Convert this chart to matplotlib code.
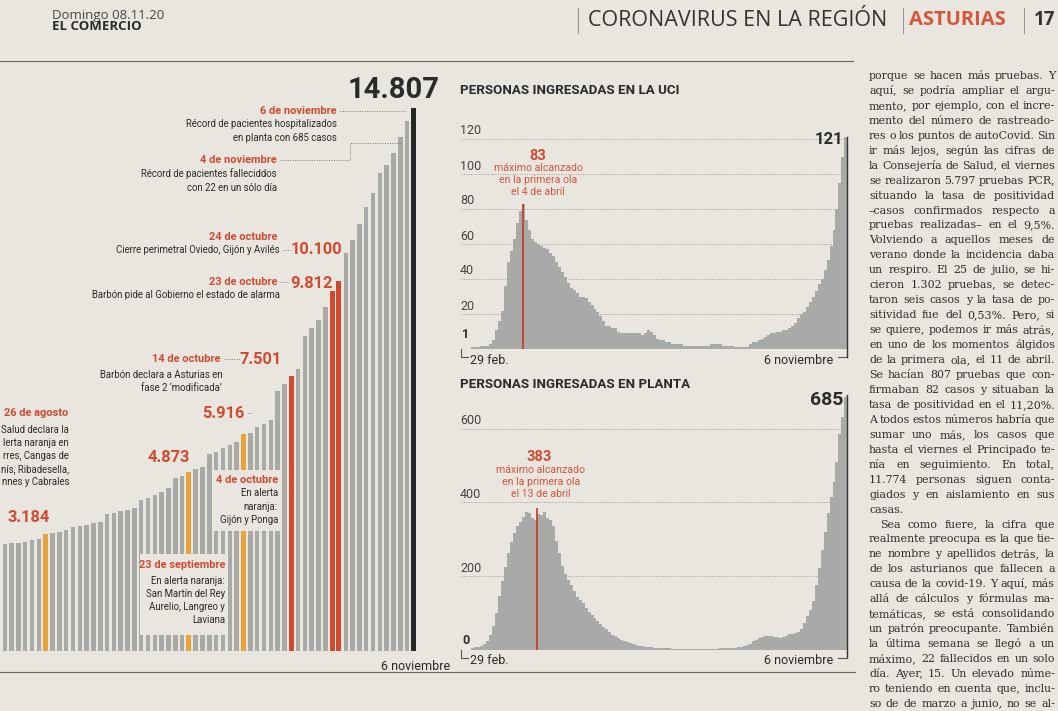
import matplotlib
matplotlib.use('Agg')
import matplotlib.pyplot as plt
from matplotlib.patches import Rectangle
import pandas as pd

W, H = 1058, 711
PAPER = '#e9e6df'
INK = '#2b2b2b'
RED = '#cf4a31'
ORANGE = '#e8a23a'
GREY = '#a9a9a7'
NARROW = ['Liberation Sans Narrow', 'Roboto', 'DejaVu Sans']
HEAD = ['Open Sans', 'DejaVu Sans']
SERIF = ['DejaVu Serif']

# casos acumulados, una barra por dia con dato
casos = [2919, 2938, 2956, 2983, 3029, 3047, 3184, 3211, 3256, 3301,
         3374, 3411, 3447, 3484, 3529, 3738, 3757, 3820, 3847, 3893,
         4120, 4166, 4256, 4347, 4438, 4712, 4775, 4873, 4957, 5020,
         5375, 5438, 5531, 5621, 5711, 5916, 5961, 6103, 6194, 6300,
         7082, 7277, 7501, 7700, 8600, 8820, 9040, 9380, 9812, 10100,
         10868, 11214, 11651, 12106, 12505, 13034, 13261, 13597, 14033, 14450,
         14807]
naranja = [6, 27, 35]
rojo = [42, 48, 49]
negro = [60]

# ingresados cada dos dias (29 feb - 6 nov)
fechas = pd.date_range('2020-03-01', '2020-11-06', freq='2D')
uci = [1, 1, 1, 2, 2, 2, 3, 5, 11, 16,
       22, 36, 50, 56, 63, 72, 79, 83, 74, 68,
       63, 61, 60, 59, 58, 57, 55, 53, 50, 47,
       44, 41, 38, 35, 34, 32, 30, 30, 29, 27,
       25, 23, 21, 19, 16, 13, 13, 12, 12, 10,
       9, 9, 9, 9, 9, 9, 9, 8, 9, 11,
       10, 8, 6, 5, 5, 4, 4, 3, 3, 3,
       3, 2, 2, 2, 2, 2, 2, 2, 2, 2,
       3, 3, 3, 3, 2, 2, 2, 2, 1, 1,
       1, 1, 1, 3, 4, 4, 5, 6, 7, 8,
       9, 9, 10, 10, 11, 11, 12, 13, 15, 18,
       20, 21, 24, 27, 30, 33, 37, 40, 45, 51,
       59, 68, 80, 95, 110, 121]
planta = [5, 6, 7, 9, 14, 24, 40, 65, 100, 145,
          185, 225, 263, 292, 316, 335, 347, 360, 372, 370,
          357, 352, 368, 365, 372, 358, 352, 335, 295, 262,
          228, 205, 190, 174, 158, 142, 134, 126, 114, 103,
          93, 86, 77, 68, 62, 55, 47, 40, 36, 32,
          27, 24, 21, 18, 15, 12, 10, 9, 8, 7,
          6, 5, 4, 4, 3, 3, 3, 2, 2, 2,
          2, 2, 2, 2, 2, 2, 2, 2, 2, 2,
          2, 2, 2, 3, 3, 3, 3, 3, 4, 6,
          8, 9, 11, 14, 22, 26, 31, 35, 36, 37,
          37, 35, 33, 30, 34, 38, 41, 43, 44, 47,
          55, 73, 90, 107, 132, 175, 220, 270, 320, 370,
          415, 455, 510, 585, 630, 685]
inicio = pd.Timestamp('2020-02-29')
pico_uci = (pd.Timestamp('2020-04-04'), 83)
pico_planta = (pd.Timestamp('2020-04-13'), 383)

columna = [
    "porque se hacen más pruebas. Y",
    "aquí, se podría ampliar el argu-",
    "mento, por ejemplo, con el incre-",
    "mento del número de rastreado-",
    "res o los puntos de autoCovid. Sin",
    "ir más lejos, según las cifras de",
    "la Consejería de Salud, el viernes",
    "se realizaron 5.797 pruebas PCR,",
    "situando la tasa de positividad",
    "–casos confirmados respecto a",
    "pruebas realizadas– en el 9,5%.",
    "Volviendo a aquellos meses de",
    "verano donde la incidencia daba",
    "un respiro. El 25 de julio, se hi-",
    "cieron 1.302 pruebas, se detec-",
    "taron seis casos y la tasa de po-",
    "sitividad fue del 0,53%. Pero, si",
    "se quiere, podemos ir más atrás,",
    "en uno de los momentos álgidos",
    "de la primera ola, el 11 de abril.",
    "Se hacían 807 pruebas que con-",
    "firmaban 82 casos y situaban la",
    "tasa de positividad en el 11,20%.",
    "A todos estos números habría que",
    "sumar uno más, los casos que",
    "hasta el viernes el Principado te-",
    "nía en seguimiento. En total,",
    "11.774 personas siguen conta-",
    "giados y en aislamiento en sus",
    "casas.",
    "Sea como fuere, la cifra que",
    "realmente preocupa es la que tie-",
    "ne nombre y apellidos detrás, la",
    "de los asturianos que fallecen a",
    "causa de la covid-19. Y aquí, más",
    "allá de cálculos y fórmulas ma-",
    "temáticas, se está consolidando",
    "un patrón preocupante. También",
    "la última semana se llegó a un",
    "máximo, 22 fallecidos en un solo",
    "día. Ayer, 15. Un elevado núme-",
    "ro teniendo en cuenta que, inclu-",
    "so de de marzo a junio, no se al-",
]


def px_axes(x0, y0, x1, y1):
    ax = fig.add_axes([x0 / W, 1 - y1 / H, (x1 - x0) / W, (y1 - y0) / H])
    ax.set_facecolor('none')
    for s in ax.spines.values():
        s.set_visible(False)
    ax.set_xticks([])
    ax.set_yticks([])
    return ax


def txt(x, y, s, size, color=INK, weight='normal', ha='left', family=NARROW, va='center'):
    return ov.text(x, y, s, fontsize=size, color=color, fontweight=weight, ha=ha,
                   va=va, family=family)


fig = plt.figure(figsize=(W / 100, H / 100), dpi=100)
fig.patch.set_facecolor(PAPER)

# --- barras de casos acumulados ---
axb = px_axes(0, 100, 420, 651)
colores = [GREY] * len(casos)
for i in naranja:
    colores[i] = ORANGE
for i in rojo:
    colores[i] = RED
for i in negro:
    colores[i] = '#262626'
anchos = [0.66 if c == GREY else 0.74 for c in colores]
axb.bar(range(len(casos)), casos, width=anchos, color=colores, linewidth=0)
axb.set_xlim(-0.7, -0.7 + 420 / 6.82)
axb.set_ylim(0, 551 / 0.03665)

# --- UCI y planta ---
dias = (fechas - inicio).days
for (y0, y1, serie, tope, ticks, pico) in [
        (130, 349, uci, 219 / 1.75, [20, 40, 60, 80, 100, 120], pico_uci),
        (390, 649.5, planta, 259.5 / 0.3683, [200, 400, 600], pico_planta)]:
    ax = px_axes(461, y0, 847, y1)
    ax.set_xlim(-6.7, 251.7)
    ax.set_ylim(0, tope)
    for t in ticks:
        ax.axhline(t, color='#9a9a96', lw=0.7, ls=(0, (1, 1.5)), zorder=0)
    ax.bar(dias, serie, width=2.0, color=GREY, linewidth=0, zorder=2)
    ax.vlines((pico[0] - inicio).days, 0, pico[1], color='#c8402d', lw=1.3, zorder=3)

# --- capa de textos ---
ov = fig.add_axes([0, 0, 1, 1], zorder=10)
ov.set_xlim(0, W)
ov.set_ylim(H, 0)
ov.axis('off')
ov.patch.set_alpha(0)

# cabecera
txt(52, 16, "Domingo 08.11.20", 9.5, color='#444', family=HEAD)
txt(52, 27, "EL COMERCIO", 9.5, weight='bold', family=HEAD)
txt(588, 20, "CORONAVIRUS EN LA REGIÓN", 15.5, color='#333', family=HEAD)
txt(909, 20, "ASTURIAS", 14.5, color='#d4573b', weight='bold', family=HEAD)
txt(1034, 20, "17", 13.5, color='#333', weight='bold', family=HEAD)
for xs in [578, 903, 1024]:
    ov.plot([xs, xs], [8, 33], color='#999', lw=0.8)
ov.plot([0, 853], [61, 61], color='#666', lw=0.8)
ov.plot([0, 855], [672, 672], color='#666', lw=0.8)

# cajas que tapan las barras
ov.add_patch(Rectangle((140, 554), 88, 81, facecolor=PAPER, edgecolor='none'))
ov.add_patch(Rectangle((212, 470), 70, 61, facecolor=PAPER, edgecolor='none'))

# anotaciones grafico de barras
dot = dict(color='#777', lw=0.7, ls=(0, (1, 1.5)))
NOTA = 6.9
FECHA = 7.9
CIFRA = 11.8
txt(394, 90, "14.807", 21, weight='bold', ha='center')
txt(337, 111, "6 de noviembre", FECHA, color=RED, weight='bold', ha='right')
ov.plot([340, 406], [111, 111], **dot)
txt(337, 124, "Récord de pacientes hospitalizados", NOTA, ha='right')
txt(337, 138, "en planta con 685 casos", NOTA, ha='right')
txt(277, 160, "4 de noviembre", FECHA, color=RED, weight='bold', ha='right')
ov.plot([280, 350, 350, 400], [160, 160, 143, 143], **dot)
txt(277, 174, "Récord de pacientes falleciddos", NOTA, ha='right')
txt(277, 188, "con 22 en un sólo día", NOTA, ha='right')
txt(277, 237, "24 de octubre", FECHA, color=RED, weight='bold', ha='right')
txt(280, 250, "Cierre perimetral Oviedo, Gijón y Avilés", NOTA, ha='right')
ov.plot([283, 291], [250, 250], **dot)
txt(342, 250, "10.100", CIFRA, color=RED, weight='bold', ha='right')
txt(277, 282, "23 de octubre", FECHA, color=RED, weight='bold', ha='right')
ov.plot([280, 288], [282, 282], **dot)
txt(333, 283, "9.812", CIFRA, color=RED, weight='bold', ha='right')
txt(280, 295, "Barbón pide al Gobierno el estado de alarma", NOTA, ha='right')
txt(220, 359, "14 de octubre", FECHA, color=RED, weight='bold', ha='right')
ov.plot([224, 241], [359, 359], **dot)
txt(282, 360, "7.501", CIFRA, color=RED, weight='bold', ha='right')
txt(222, 375, "Barbón declara a Asturias en", NOTA, ha='right')
txt(222, 388, "fase 2 ‘modificada’", NOTA, ha='right')
txt(245, 413, "5.916", CIFRA, color=RED, weight='bold', ha='right')
ov.plot([248, 252], [413, 413], **dot)
txt(68, 413, "26 de agosto", FECHA, color=RED, weight='bold', ha='right')
# lineas que el recorte de la pagina deja a medias
for k, linea in enumerate(["Salud declara la", "lerta naranja en", "rres, Cangas de",
                           "nís, Ribadesella,", "nnes y Cabrales"]):
    txt(69, 430 + 13 * k, linea, NOTA, ha='right')
txt(190, 458, "4.873", CIFRA, color=RED, weight='bold', ha='right')
txt(50, 518, "3.184", CIFRA, color=RED, weight='bold', ha='right')
txt(278, 480, "4 de octubre", FECHA, color=RED, weight='bold', ha='right')
for k, linea in enumerate(["En alerta", "naranja:", "Gijón y Ponga"]):
    txt(278, 493 + 13.5 * k, linea, NOTA, ha='right')
txt(225, 565, "23 de septiembre", FECHA, color=RED, weight='bold', ha='right')
for k, linea in enumerate(["En alerta naranja:", "San Martín del Rey",
                           "Aurelio, Langreo y", "Laviana"]):
    txt(225, 581 + 13 * k, linea, NOTA, ha='right')
txt(450, 666, "6 noviembre", 9, ha='right')

# anotaciones UCI / planta
txt(460, 90, "PERSONAS INGRESADAS EN LA UCI", 9.6, weight='bold')
txt(460, 385, "PERSONAS INGRESADAS EN PLANTA", 9.6, weight='bold')
for v, y in [(120, 131), (100, 166), (80, 201), (60, 236), (40, 271), (20, 306)]:
    txt(460, y, str(v), 9, color='#444')
txt(462, 335, "1", 9, weight='bold')
for v, y in [(600, 420), (400, 495), (200, 569)]:
    txt(460, y, str(v), 9, color='#444')
txt(462, 640, "0", 9, weight='bold')
for yb in [349, 649.5]:
    ov.plot([461, 461, 468], [yb, yb + 8, yb + 8], color='#555', lw=0.8)
    txt(470, yb + 11, "29 feb.", 9)
    txt(833, yb + 11, "6 noviembre", 9, ha='right')
    ov.plot([838, 847], [yb + 8, yb + 8], color='#555', lw=0.8)
ov.plot([847, 847], [137, 357], color='#333', lw=1.0)
ov.plot([847, 847], [395, 657], color='#333', lw=1.0)
txt(843, 139, "121", 12, weight='bold', ha='right')
txt(843, 400, "685", 14, weight='bold', ha='right')
txt(538, 156, "83", 10.5, color=RED, weight='bold', ha='center')
for k, linea in enumerate(["máximo alcanzado", "en la primera ola", "el 4 de abril"]):
    txt(538, 168 + 12 * k, linea, 7.6, color='#d4553b', ha='center')
txt(539, 457, "383", 10.5, color=RED, weight='bold', ha='center')
for k, linea in enumerate(["máximo alcanzado", "en la primera ola", "el 13 de abril"]):
    txt(541, 470 + 12 * k, linea, 7.6, color='#d4553b', ha='center')

# columna de texto justificada
fig.canvas.draw()
rend = fig.canvas.get_renderer()
for k, linea in enumerate(columna):
    y = 79 + 14.95 * k
    x0 = 880 if linea.startswith("Sea como") else 869
    x1 = 1055
    palabras = linea.split()
    objs = [txt(0, y, p, 7.9, color='#2f2f2f', family=SERIF, va='baseline')
            for p in palabras]
    anchos_p = [o.get_window_extent(rend).width for o in objs]
    if linea == "casas." or len(palabras) == 1:
        gap = 4.0
    else:
        gap = max(2.0, (x1 - x0 - sum(anchos_p)) / (len(palabras) - 1))
    x = x0
    for o, a in zip(objs, anchos_p):
        o.set_x(x)
        x += a + gap

fig.savefig('out.png', dpi=100, facecolor=PAPER)
